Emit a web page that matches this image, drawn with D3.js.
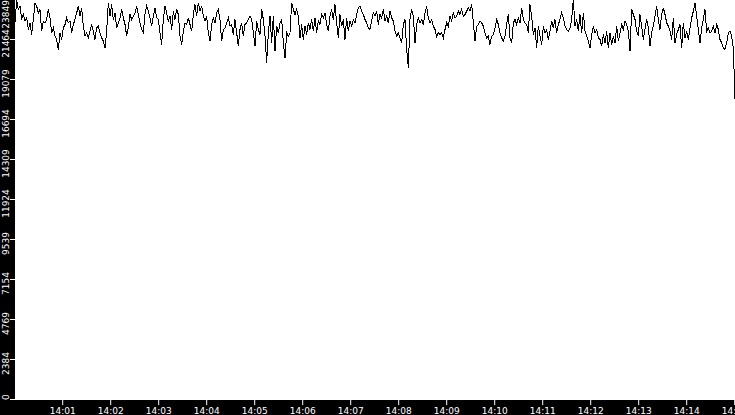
<!DOCTYPE html>
<html lang="en">
<head>
    <meta charset="UTF-8">
    <title>Throughput</title>
    <script src="https://d3js.org/d3.v7.min.js"></script>
    <style>
        html, body { margin: 0; padding: 0; background: #000; overflow: hidden; }
    </style>
</head>
<body>
    <div id="chart"></div>
    <script>
        // samples, one every ~2.08 s from 14:00:01 to 14:15:01
        var values1 = [
            22458, 23849, 23253, 23452, 22657, 22955, 22557, 22756, 22061, 22458,
            21763, 22657, 23650, 23452, 23054, 23253, 21961, 22557, 22458, 22657,
            23253, 22756, 21862, 22160, 21663, 21465, 20868, 21862, 21465, 22160,
            22359, 22756, 22458, 22557, 21862, 22359, 22657, 23054, 23452, 22856,
            23352, 22259, 21663, 21862, 21564, 21961, 22359, 21961, 21465, 22160,
            22259, 21862, 21564, 21365, 20968, 21961, 23650, 22856, 23551, 22657,
            23054, 22160, 22458, 22756, 23253, 22756, 22359, 21663, 22160, 22955,
            22657, 22856, 23054, 23452, 22955, 22458, 22061, 21862, 22955, 23452,
            23154, 22756, 22259, 22856, 23352, 22756, 22657, 21862, 21166, 22657,
            23452, 23054, 22557, 22856, 22061, 23154, 22657, 23253, 22955, 21663,
            21166, 21961, 22458, 22359, 22756, 22359, 21961, 22955, 23551, 22856,
            23650, 23154, 23452, 22856, 22557, 22856, 21862, 21365, 22359, 22756,
            22458, 23054, 23253, 22657, 21365, 22061, 22160, 22458, 22756, 22259,
            22359, 21763, 22657, 21862, 21067, 22061, 22458, 21663, 22359, 22458,
            22657, 22856
        ];
        var values2 = [
            22657, 21862, 21067, 22557, 22061, 21763, 23253, 22657, 21663, 20074,
            21862, 22856, 21266, 22856, 20769, 22259, 21862, 22458, 22657, 21266,
            20372, 21862, 21663, 21862, 23650, 23253, 22955, 23253, 22856, 21564,
            22359, 21465, 22259, 21763, 22458, 22061, 22657, 21961, 22756, 21862,
            22557, 22359, 22955, 22756, 23054, 22359, 21961, 22856, 23253, 22657,
            23551, 22458, 21564, 22955, 22259, 22657, 21465, 22756, 21961, 22557,
            22259, 22657, 22458, 22955, 23352, 23452, 23154, 22955, 22657, 22458,
            22160, 22061, 22557, 23054, 22856, 23154, 22359, 22955, 22756, 23253,
            22557, 22856, 22458, 23154, 22756, 22557, 21961, 21663, 21862, 21564,
            21266, 22359, 22657, 20868, 19776, 22657, 23253, 22856, 21266, 22359,
            22756, 22458, 22657, 22359, 23054, 23452, 22756, 22458, 22657, 22259,
            22061, 21663, 21862, 21763, 21862, 21564, 22061, 22458, 22259, 22856,
            22557, 23054, 22756, 22856, 23154, 22955, 23253, 22856, 22955, 23154,
            23352, 23154, 23551, 22458, 21365, 22259, 22359, 22557, 22458, 22259,
            21862, 21564, 21663, 21166, 21663, 21763
        ];
        var values3 = [
            22160, 22657, 22359, 21862, 21564, 21365, 21663, 22359, 22955, 21564,
            21266, 22458, 22657, 22359, 22756, 22458, 23352, 22657, 22458, 22359,
            21862, 23551, 22856, 21763, 22160, 20968, 22259, 21663, 21166, 22259,
            21862, 22061, 21465, 21961, 22557, 22160, 22657, 21862, 22359, 22657,
            23054, 22756, 22259, 22061, 21961, 22160, 22657, 23849, 22259, 22657,
            21961, 22955, 21862, 23054, 21961, 21663, 21365, 20968, 21763, 22259,
            21862, 22061, 21564, 21465, 21067, 21763, 21266, 21961, 20968, 21862,
            21166, 21663, 21266, 22259, 21365, 21862, 22359, 22061, 22557, 22359,
            21961, 20769, 23253, 22955, 22657, 21961, 21663, 22955, 22259, 21465,
            22061, 22657, 22160, 21067, 21862, 22259, 22856, 23452, 22657, 22061,
            22955, 23352, 22955, 22458, 22259, 21961, 21465, 22756, 21266, 21763,
            22061, 22359, 20968, 22458, 21564, 21961, 21465, 22160, 22756, 23154,
            23650, 22856, 22061, 21266, 22160, 22657, 23253, 21961, 22160, 21862,
            21961, 22259, 21862, 22359, 22061, 21465, 21266, 20968, 20868, 21266,
            21862, 21961, 21663, 20968, 17888
        ];
        var yMax = 23849;
        var yTickValues = [0, 2384, 4769, 7154, 9539, 11924, 14309, 16694, 19079, 21464, 23849];
        var startTime = new Date(2024, 0, 1, 14, 0, 1);
        var endTime = new Date(2024, 0, 1, 14, 15, 1);

        var values = values1.concat(values2, values3);
        var step = (endTime - startTime) / (values.length - 1);
        var data = values.map(function(v, i) {
            return { t: new Date(+startTime + i * step), v: v };
        });

        var W = 735, H = 415;
        var margin = {top: 0, right: 0, bottom: 15, left: 15},
            width = W - margin.left - margin.right,
            height = H - margin.top - margin.bottom;

        var svg = d3.select("#chart")
          .append("svg")
            .attr("width", W)
            .attr("height", H)
            .style("display", "block");

        svg.append("rect")
            .attr("width", W)
            .attr("height", H)
            .attr("fill", "#000");

        var g = svg.append("g")
            .attr("transform", "translate(" + margin.left + "," + margin.top + ")");

        g.append("rect")
            .attr("width", width)
            .attr("height", height)
            .attr("fill", "#fff");

        g.append("clipPath").attr("id", "plot-clip")
          .append("rect")
            .attr("width", width)
            .attr("height", height);

        var x = d3.scaleTime()
            .domain([startTime, endTime])
            .range([0, width]);

        var y = d3.scaleLinear()
            .domain([0, yMax])
            .range([height - 0.5, -0.5]);

        // the trace
        var line = d3.line()
            .x(function(d) { return x(d.t); })
            .y(function(d) { return y(d.v); });

        g.append("path")
            .datum(data)
            .attr("clip-path", "url(#plot-clip)")
            .attr("fill", "none")
            .attr("stroke", "#000")
            .attr("stroke-width", 1)
            .attr("shape-rendering", "crispEdges")
            .attr("d", line);

        // X axis
        var xAxis = g.append("g")
            .attr("transform", "translate(0," + height + ")")
            .call(d3.axisBottom(x)
                .ticks(d3.timeMinute.every(1))
                .tickFormat(d3.timeFormat("%H:%M"))
                .tickSize(5)
                .tickSizeOuter(0));
        xAxis.select(".domain").remove();
        xAxis.selectAll("line").attr("stroke", "#fff");
        xAxis.selectAll("text")
            .attr("fill", "#fff")
            .style("font-family", "'DejaVu Sans'")
            .style("font-size", "9px");

        // Y axis, labels turned on their side and kept inside the plot height
        var yAxis = g.append("g")
            .call(d3.axisLeft(y)
                .tickValues(yTickValues)
                .tickFormat(d3.format("d"))
                .tickSize(5)
                .tickSizeOuter(0)
                .offset(0));
        yAxis.select(".domain").remove();
        yAxis.selectAll("line").attr("stroke", "#fff");
        yAxis.selectAll("text")
            .attr("fill", "#fff")
            .attr("x", null)
            .attr("dy", null)
            .style("font-family", "'DejaVu Sans'")
            .style("font-size", "9px")
            .style("text-anchor", "middle")
            .attr("transform", function(d) {
                var w = this.getComputedTextLength();
                var ty = y(d);
                var c = Math.max(w / 2, Math.min(height - w / 2, ty + 4));
                return "translate(-6," + (c - ty) + ") rotate(-90)";
            });
    </script>
</body>
</html>
